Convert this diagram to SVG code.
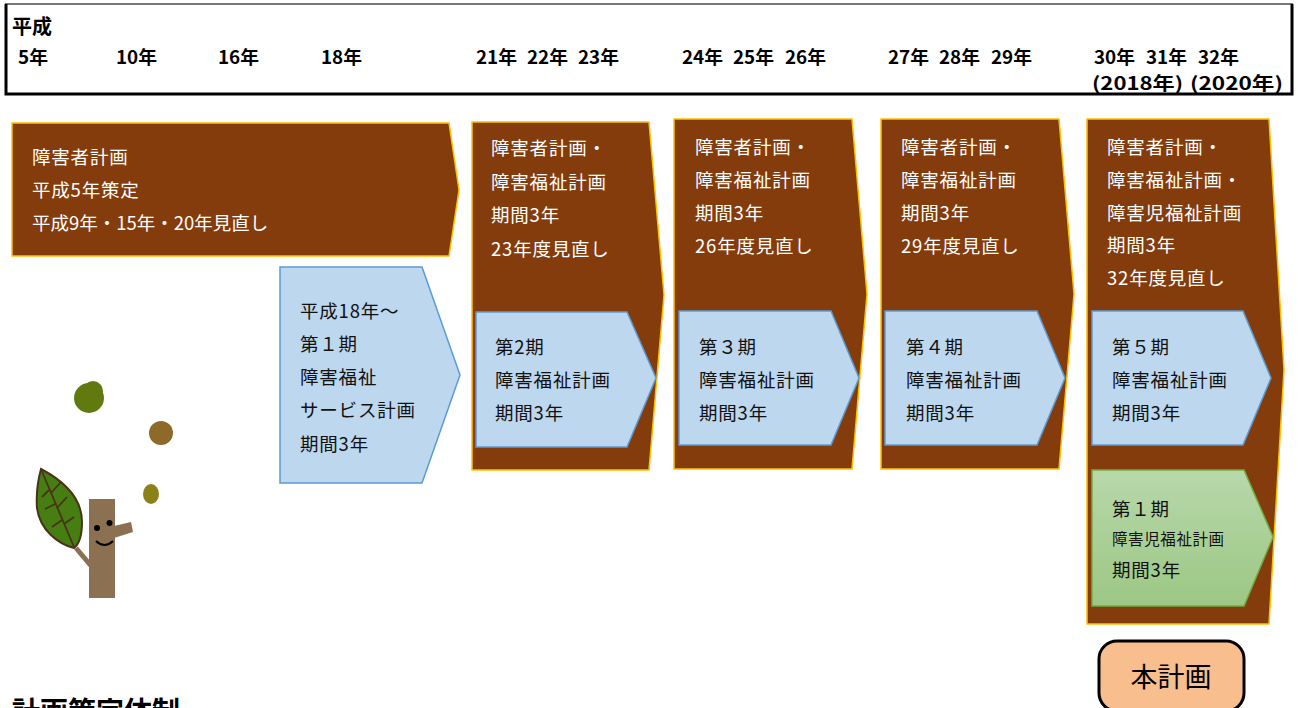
<svg xmlns="http://www.w3.org/2000/svg" width="1298" height="708" viewBox="0 0 1298 708">
  <defs>
    <linearGradient id="greenFill" x1="0" y1="0" x2="0" y2="1">
      <stop offset="0" stop-color="#B8D8AA"/>
      <stop offset="1" stop-color="#9CC784"/>
    </linearGradient>
    <style>
      text { font-family: "Noto Sans CJK JP", "Noto Sans", sans-serif; }
      .yr { font-size: 18px; font-weight: bold; fill: #000; }
      .plan { fill: #843C0C; stroke: #FFC000; stroke-width: 1.5; }
      .period { fill: #BDD7EE; stroke: #5B9BD5; stroke-width: 1.5; }
      .wt { font-size: 18.5px; fill: #FFFFFF; letter-spacing: 0.8px; }
      .bt { font-size: 18.5px; fill: #111; letter-spacing: 0.8px; }
      .bark { fill: #8B7152; }
    </style>
  </defs>

  <!-- year header band -->
  <g id="header">
    <line x1="5" y1="4" x2="1293" y2="4" stroke="#777" stroke-width="2"/>
    <path d="M6,4 V94 H1292 V4" fill="none" stroke="#000" stroke-width="3"/>
    <text x="12" y="34" style="font-size:20px;font-weight:bold">平成</text>
    <text class="yr" x="18" y="64" textLength="30" lengthAdjust="spacingAndGlyphs">5年</text>
    <text class="yr" x="116" y="64" textLength="41" lengthAdjust="spacingAndGlyphs">10年</text>
    <text class="yr" x="218" y="64" textLength="41" lengthAdjust="spacingAndGlyphs">16年</text>
    <text class="yr" x="321" y="64" textLength="41" lengthAdjust="spacingAndGlyphs">18年</text>
    <text class="yr" x="476" y="64" textLength="41" lengthAdjust="spacingAndGlyphs">21年</text>
    <text class="yr" x="527" y="64" textLength="41" lengthAdjust="spacingAndGlyphs">22年</text>
    <text class="yr" x="578" y="64" textLength="41" lengthAdjust="spacingAndGlyphs">23年</text>
    <text class="yr" x="682" y="64" textLength="41" lengthAdjust="spacingAndGlyphs">24年</text>
    <text class="yr" x="733" y="64" textLength="41" lengthAdjust="spacingAndGlyphs">25年</text>
    <text class="yr" x="785" y="64" textLength="41" lengthAdjust="spacingAndGlyphs">26年</text>
    <text class="yr" x="888" y="64" textLength="41" lengthAdjust="spacingAndGlyphs">27年</text>
    <text class="yr" x="939" y="64" textLength="41" lengthAdjust="spacingAndGlyphs">28年</text>
    <text class="yr" x="991" y="64" textLength="41" lengthAdjust="spacingAndGlyphs">29年</text>
    <text class="yr" x="1094" y="64" textLength="41" lengthAdjust="spacingAndGlyphs">30年</text>
    <text class="yr" x="1146" y="64" textLength="41" lengthAdjust="spacingAndGlyphs">31年</text>
    <text class="yr" x="1198" y="64" textLength="41" lengthAdjust="spacingAndGlyphs">32年</text>
    <text class="yr" x="1092" y="90" textLength="91" lengthAdjust="spacingAndGlyphs">(2018年)</text>
    <text class="yr" x="1190" y="90" textLength="93" lengthAdjust="spacingAndGlyphs">(2020年)</text>
  </g>

  <!-- 障害者計画 (平成5年〜) -->
  <g id="plan-h5">
    <polygon class="plan" points="12,123 449,123 459,190 449,256 12,256"/>
    <text class="wt" x="32" y="164">障害者計画</text>
    <text class="wt" x="32" y="197">平成5年策定</text>
    <text class="wt" x="32" y="230" textLength="237" lengthAdjust="spacing">平成9年・15年・20年見直し</text>
  </g>

  <!-- 第1期 障害福祉サービス計画 -->
  <g id="period-1">
    <polygon class="period" points="280,267 422,267 460,375 422,483 280,483"/>
    <text class="bt" x="300" y="318">平成18年～</text>
    <text class="bt" x="300" y="351">第１期</text>
    <text class="bt" x="300" y="384">障害福祉</text>
    <text class="bt" x="300" y="417">サービス計画</text>
    <text class="bt" x="300" y="451">期間3年</text>
  </g>

  <!-- 平成21〜23年 -->
  <g id="plan-h21">
    <polygon class="plan" points="472,122 649,122 664,295 649,470 472,470"/>
    <text class="wt" x="491" y="155">障害者計画・</text>
    <text class="wt" x="491" y="189">障害福祉計画</text>
    <text class="wt" x="491" y="222">期間3年</text>
    <text class="wt" x="491" y="256">23年度見直し</text>
  </g>
  <g id="period-2">
    <polygon class="period" points="476,312 627,312 656,378 627,447 476,447"/>
    <text class="bt" x="495" y="354">第2期</text>
    <text class="bt" x="495" y="387">障害福祉計画</text>
    <text class="bt" x="495" y="420">期間3年</text>
  </g>

  <!-- 平成24〜26年 -->
  <g id="plan-h24">
    <polygon class="plan" points="674,119 852,119 867,294 852,469 674,469"/>
    <text class="wt" x="695" y="154">障害者計画・</text>
    <text class="wt" x="695" y="187">障害福祉計画</text>
    <text class="wt" x="695" y="220">期間3年</text>
    <text class="wt" x="695" y="253">26年度見直し</text>
  </g>
  <g id="period-3">
    <polygon class="period" points="679,311 831,311 859,378 831,445 679,445"/>
    <text class="bt" x="699" y="354">第３期</text>
    <text class="bt" x="699" y="387">障害福祉計画</text>
    <text class="bt" x="699" y="420">期間3年</text>
  </g>

  <!-- 平成27〜29年 -->
  <g id="plan-h27">
    <polygon class="plan" points="881,119 1059,119 1074,294 1059,469 881,469"/>
    <text class="wt" x="901" y="154">障害者計画・</text>
    <text class="wt" x="901" y="187">障害福祉計画</text>
    <text class="wt" x="901" y="220">期間3年</text>
    <text class="wt" x="901" y="253">29年度見直し</text>
  </g>
  <g id="period-4">
    <polygon class="period" points="885,311 1037,311 1065,378 1037,445 885,445"/>
    <text class="bt" x="906" y="354">第４期</text>
    <text class="bt" x="906" y="387">障害福祉計画</text>
    <text class="bt" x="906" y="420">期間3年</text>
  </g>

  <!-- 平成30〜32年 -->
  <g id="plan-h30">
    <polygon class="plan" points="1087,119 1269,119 1284,370 1269,624 1087,624"/>
    <text class="wt" x="1107" y="154">障害者計画・</text>
    <text class="wt" x="1107" y="187">障害福祉計画・</text>
    <text class="wt" x="1107" y="220">障害児福祉計画</text>
    <text class="wt" x="1107" y="252">期間3年</text>
    <text class="wt" x="1107" y="285">32年度見直し</text>
  </g>
  <g id="period-5">
    <polygon class="period" points="1092,311 1243,311 1271,378 1243,445 1092,445"/>
    <text class="bt" x="1112" y="354">第５期</text>
    <text class="bt" x="1112" y="387">障害福祉計画</text>
    <text class="bt" x="1112" y="420">期間3年</text>
  </g>
  <g id="child-period-1">
    <polygon points="1092,470 1244,470 1273,537 1244,606 1092,606" fill="url(#greenFill)" stroke="#70AD47" stroke-width="1.5"/>
    <text class="bt" x="1112" y="516">第１期</text>
    <text class="bt" x="1112" y="545" style="font-size:15.5px;letter-spacing:0.6px">障害児福祉計画</text>
    <text class="bt" x="1112" y="577">期間3年</text>
  </g>

  <!-- current plan badge -->
  <g id="this-plan">
    <rect x="1099" y="641" width="145" height="70" rx="18" fill="#F8BE8E" stroke="#000" stroke-width="3"/>
    <text x="1171" y="687" text-anchor="middle" style="font-size:27px;fill:#000">本計画</text>
  </g>

  <!-- section heading running off the lower edge -->
  <text x="12" y="722" style="font-size:28px;font-weight:bold;fill:#000">計画策定体制</text>

  <!-- tree character with falling leaves -->
  <g id="tree">
    <circle cx="89" cy="398" r="15" fill="#617A10"/>
    <circle cx="93" cy="391" r="10" fill="#617A10"/>
    <circle cx="161" cy="433" r="12" fill="#8E6A2A"/>
    <ellipse cx="151" cy="494" rx="8" ry="10" fill="#8C8018"/>
    <line x1="92" y1="567" x2="76" y2="548" stroke="#8B7152" stroke-width="5"/>
    <rect class="bark" x="89" y="499" width="26" height="99"/>
    <polygon class="bark" points="114,526 131,522 133,532 114,538"/>
    <circle cx="97" cy="528" r="3" fill="#000"/>
    <circle cx="109.5" cy="523" r="3" fill="#000"/>
    <path d="M96,541 Q104.5,549 113,541" fill="none" stroke="#000" stroke-width="2"/>
    <path d="M41,469 C58,478 82,495 82,522 C82,538 78,545 74,548 C58,544 40,530 37,508 C36,494 38,480 41,469 Z" fill="#467E12" stroke="#4A3219" stroke-width="2"/>
    <g stroke="#4A3219" stroke-width="1.8" fill="none">
      <line x1="41" y1="469" x2="74" y2="547"/>
      <line x1="51" y1="493" x2="61" y2="482"/>
      <line x1="57" y1="508" x2="67" y2="497"/>
      <line x1="64" y1="524" x2="74" y2="517"/>
      <line x1="49" y1="490" x2="42" y2="497"/>
      <line x1="55" y1="504" x2="45" y2="509"/>
      <line x1="62" y1="520" x2="52" y2="527"/>
    </g>
  </g>
</svg>
